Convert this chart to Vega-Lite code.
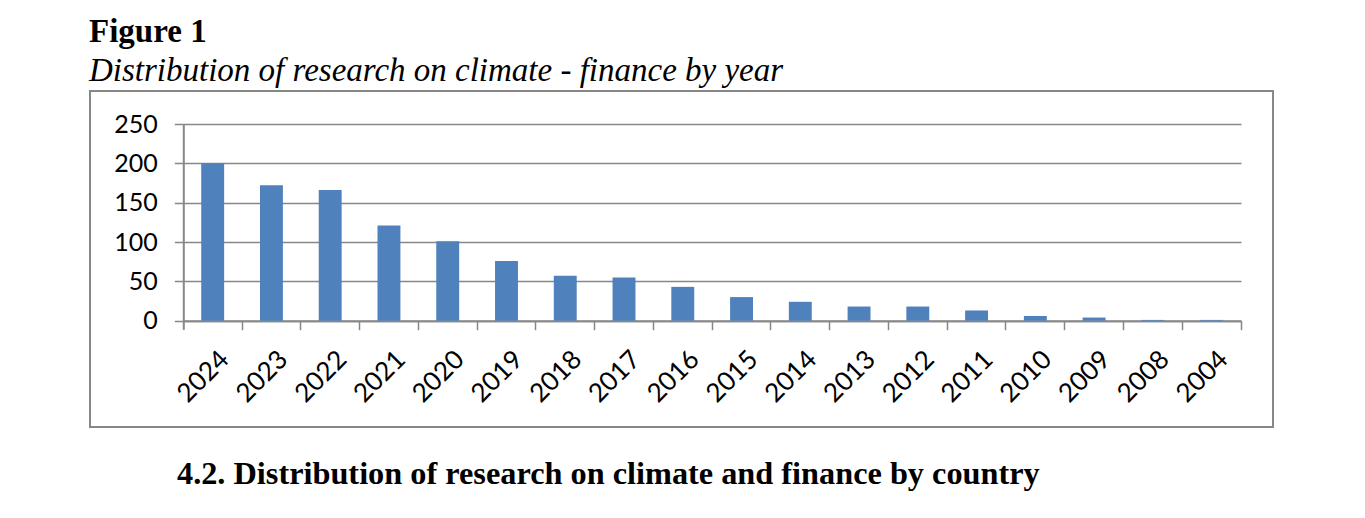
{
  "$schema": "https://vega.github.io/schema/vega-lite/v6.json",
  "background": "white",
  "padding": {"left": 89, "top": 16, "right": 0, "bottom": 0},
  "title": {
    "text": "Figure 1",
    "subtitle": "Distribution of research on climate - finance by year",
    "anchor": "start",
    "font": "Liberation Serif",
    "fontSize": 33,
    "fontWeight": "bold",
    "color": "black",
    "subtitleFont": "Liberation Serif",
    "subtitleFontSize": 33,
    "subtitleFontStyle": "italic",
    "subtitleColor": "black",
    "subtitlePadding": 6,
    "offset": 2
  },
  "spacing": 30,
  "vconcat": [
    {
      "width": 1183,
      "height": 336,
      "view": {"stroke": "#878787", "strokeWidth": 2},
      "data": {
        "values": [
          {"year": "2024", "count": 200},
          {"year": "2023", "count": 172},
          {"year": "2022", "count": 166},
          {"year": "2021", "count": 121},
          {"year": "2020", "count": 101},
          {"year": "2019", "count": 76},
          {"year": "2018", "count": 57},
          {"year": "2017", "count": 55},
          {"year": "2016", "count": 43},
          {"year": "2015", "count": 30},
          {"year": "2014", "count": 24},
          {"year": "2013", "count": 18},
          {"year": "2012", "count": 18},
          {"year": "2011", "count": 13},
          {"year": "2010", "count": 6},
          {"year": "2009", "count": 4},
          {"year": "2008", "count": 1},
          {"year": "2004", "count": 1}
        ]
      },
      "mark": {"type": "bar", "color": "#4F81BD", "width": {"band": 0.39}},
      "encoding": {
        "x": {
          "field": "year",
          "type": "nominal",
          "sort": null,
          "scale": {"range": [93.3, 1151], "paddingInner": 0, "paddingOuter": 0},
          "axis": {
            "title": null,
            "orient": "bottom",
            "offset": -106.3,
            "bandPosition": 1,
            "domainColor": "#878787",
            "domainWidth": 2,
            "tickColor": "#878787",
            "tickWidth": 1.5,
            "tickSize": 9,
            "labelAngle": -45,
            "labelAlign": "right",
            "labelBaseline": "top",
            "labelPadding": 16,
            "labelOffset": 3,
            "labelFont": "Lato",
            "labelFontSize": 26,
            "labelColor": "black"
          }
        },
        "y": {
          "field": "count",
          "type": "quantitative",
          "scale": {"domain": [-11, 250], "range": [238.35, 33], "nice": false, "zero": false},
          "axis": {
            "title": null,
            "offset": -93.3,
            "values": [0, 50, 100, 150, 200, 250],
            "grid": true,
            "gridColor": "#878787",
            "gridWidth": 1.5,
            "domainColor": "#878787",
            "domainWidth": 2,
            "tickColor": "#878787",
            "tickWidth": 1.5,
            "tickSize": 9,
            "labelFont": "Lato",
            "labelFontSize": 25,
            "labelColor": "black",
            "labelPadding": 17
          }
        },
        "y2": {"datum": 0}
      }
    },
    {
      "width": 174,
      "height": 40,
      "view": {"stroke": null},
      "data": {"values": [{"heading": "4.2. Distribution of research on climate and finance by country"}]},
      "mark": {"type": "text", "align": "left", "baseline": "alphabetic", "font": "Liberation Serif", "fontSize": 32.3, "fontWeight": "bold", "color": "black"},
      "encoding": {"text": {"field": "heading", "type": "nominal"}}
    }
  ]
}
